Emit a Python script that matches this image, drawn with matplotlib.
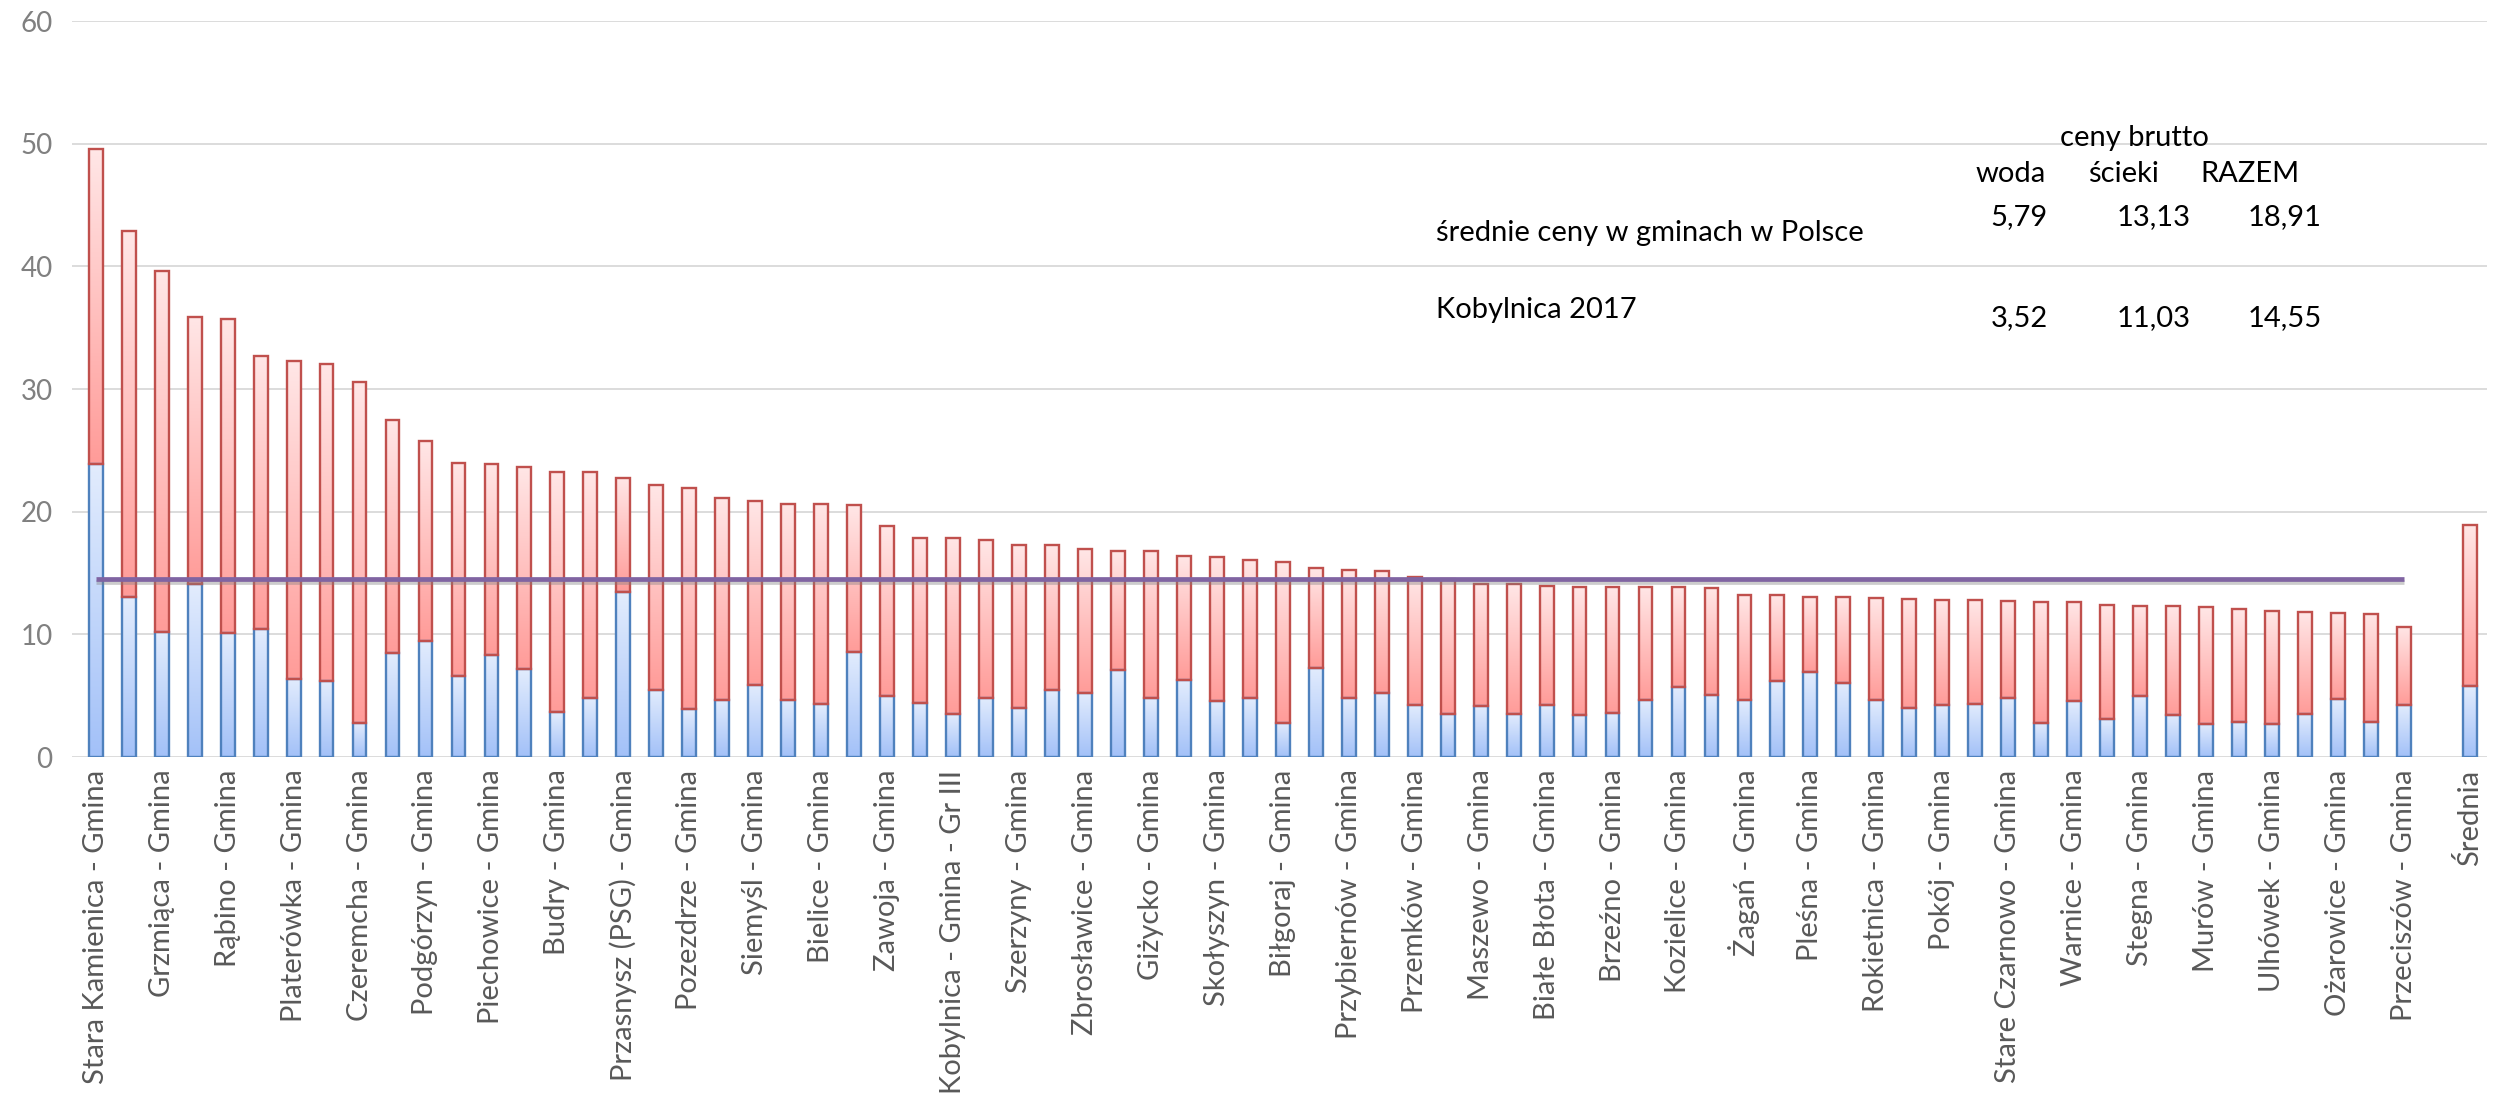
import numpy as np
import matplotlib
matplotlib.use("Agg")
import matplotlib.pyplot as plt
import matplotlib.patheffects as pe
from matplotlib.colors import LinearSegmentedColormap

plt.rcParams["font.family"] = ["Lato", "DejaVu Sans"]

# === DATA ===
# Excel shows only every other category name on the axis
SHOWN_LABELS = [
    "Stara Kamienica - Gmina", "Grzmiąca - Gmina", "Rąbino - Gmina", "Platerówka - Gmina",
    "Czeremcha - Gmina", "Podgórzyn - Gmina", "Piechowice - Gmina", "Budry - Gmina",
    "Przasnysz (PSG) - Gmina", "Pozezdrze - Gmina", "Siemyśl - Gmina", "Bielice - Gmina",
    "Zawoja - Gmina", "Kobylnica - Gmina - Gr III", "Szerzyny - Gmina", "Zbrosławice - Gmina",
    "Giżycko - Gmina", "Skołyszyn - Gmina", "Biłgoraj - Gmina", "Przybiernów - Gmina",
    "Przemków - Gmina", "Maszewo - Gmina", "Białe Błota - Gmina", "Brzeźno - Gmina",
    "Kozielice - Gmina", "Żagań - Gmina", "Pleśna - Gmina", "Rokietnica - Gmina",
    "Pokój - Gmina", "Stare Czarnowo - Gmina", "Warnice - Gmina", "Stegna - Gmina",
    "Murów - Gmina", "Ulhówek - Gmina", "Ożarowice - Gmina", "Przeciszów - Gmina",
]
SREDNIA_LABEL = "Średnia"

# woda (blue, bottom) per gmina
WODA = [
    23.91, 13.06, 10.21, 14.07, 10.11, 10.45, 6.36, 6.16, 2.78, 8.47,
    9.48, 6.58, 8.32, 7.17, 3.64, 4.84, 13.42, 5.49, 3.91, 4.65,
    5.90, 4.65, 4.29, 8.56, 5.00, 4.43, 3.48, 4.84, 3.97, 5.49,
    5.24, 7.12, 4.78, 6.25, 4.57, 4.84, 2.80, 7.27, 4.84, 5.25,
    4.24, 3.52, 4.16, 3.51, 4.24, 3.46, 3.62, 4.65, 5.71, 5.06,
    4.63, 6.23, 6.94, 6.04, 4.63, 3.97, 4.27, 4.35, 4.79, 2.80,
    4.55, 3.11, 4.96, 3.46, 2.70, 2.89, 2.70, 3.51, 4.71, 2.83,
    4.25,
]
# ścieki (red, on top) per gmina
SCIEKI = [
    25.62, 29.81, 29.41, 21.80, 25.59, 22.27, 25.92, 25.86, 27.80, 18.99,
    16.27, 17.42, 15.59, 16.47, 19.59, 18.37, 9.32, 16.66, 17.99, 16.49,
    15.00, 16.00, 16.36, 11.96, 13.83, 13.42, 14.37, 12.82, 13.34, 11.77,
    11.72, 9.70, 12.01, 10.11, 11.71, 11.22, 13.10, 8.10, 10.40, 9.88,
    10.45, 11.03, 9.91, 10.56, 9.72, 10.42, 10.23, 9.20, 8.14, 8.74,
    8.59, 6.94, 6.07, 6.97, 8.32, 8.93, 8.55, 8.41, 7.92, 9.85,
    8.12, 9.32, 7.38, 8.83, 9.53, 9.15, 9.23, 8.29, 7.03, 8.86,
    6.38,
]
SREDNIA_WODA = 5.79
SREDNIA_SCIEKI = 13.13
KOBYLNICA_RAZEM = 14.55

TABLE_TITLE = "ceny brutto"
TABLE_HEADER = ["woda", "ścieki", "RAZEM"]
TABLE_ROWS = ["średnie ceny w gminach w Polsce", "Kobylnica 2017"]
TABLE_VALUES = [["5,79", "13,13", "18,91"], ["3,52", "11,03", "14,55"]]

# === STYLE ===
W, H = 2503, 1098
BAR_W = 0.42
BLUE_EDGE = "#4f81bd"
RED_EDGE = "#c0504d"
BLUE_CMAP = LinearSegmentedColormap.from_list("b", ["#a3c1f8", "#e2ecfd"])
RED_CMAP = LinearSegmentedColormap.from_list("r", ["#ff9c99", "#ffe6e6"])
GRAD = np.linspace(0, 1, 64).reshape(-1, 1)


def fx(px):
    return px / W


def fy(py):
    return 1 - py / H


def gradient_bar(ax, x, bottom, height, cmap, edge):
    ax.imshow(GRAD, cmap=cmap, origin="lower", aspect="auto", interpolation="bilinear",
              extent=[x - BAR_W / 2, x + BAR_W / 2, bottom, bottom + height], zorder=2)
    ax.bar(x, height, BAR_W, bottom=bottom, facecolor="none", edgecolor=edge,
           linewidth=1.7, zorder=3)


fig = plt.figure(figsize=(W / 100, H / 100), dpi=100)
ax = fig.add_axes([fx(72), fy(757), fx(2487 - 72), (757 - 21) / H])

n = len(WODA)
xs = np.arange(n)
x_sr = n + 1  # one empty slot before the average

for x, w, s in zip(xs, WODA, SCIEKI):
    gradient_bar(ax, x, 0, w, BLUE_CMAP, BLUE_EDGE)
    gradient_bar(ax, x, w, s, RED_CMAP, RED_EDGE)
gradient_bar(ax, x_sr, 0, SREDNIA_WODA, BLUE_CMAP, BLUE_EDGE)
gradient_bar(ax, x_sr, SREDNIA_WODA, SREDNIA_SCIEKI, RED_CMAP, RED_EDGE)

ax.plot(xs, [KOBYLNICA_RAZEM] * n, color="#8064a2", linewidth=3.4, zorder=4,
        solid_capstyle="butt",
        path_effects=[pe.SimpleLineShadow(offset=(0, -2.5), shadow_color="gray", alpha=0.4),
                      pe.Normal()])

ax.set_xlim(-0.72, x_sr + 0.52)
ax.set_ylim(0, 60)
ax.set_yticks(range(0, 61, 10))
ax.set_xticks(list(range(0, n, 2)) + [x_sr])
ax.set_xticklabels(SHOWN_LABELS + [SREDNIA_LABEL], rotation=90, va="top", ha="center")
ax.tick_params(axis="y", length=0, pad=14, labelsize=20, labelcolor="#808080")
ax.tick_params(axis="x", length=0, pad=9, labelsize=21, labelcolor="#595959")
ax.grid(axis="y", color="#d9d9d9", linewidth=1.3, zorder=0)
ax.set_axisbelow(True)
for sp in ax.spines.values():
    sp.set_visible(False)

# === TABLE TEXT ===
fs = 21
fig.text(fx(2134), fy(138), TABLE_TITLE, ha="center", va="center", fontsize=fs)
for label, cx in zip(TABLE_HEADER, [2011, 2123, 2250]):
    fig.text(fx(cx), fy(174), label, ha="center", va="center", fontsize=fs)
for row, vals, ly, vy in zip(TABLE_ROWS, TABLE_VALUES, [233, 310], [217, 318]):
    fig.text(fx(1436), fy(ly), row, ha="left", va="center", fontsize=fs)
    for v, rx in zip(vals, [2048, 2191, 2322]):
        fig.text(fx(rx), fy(vy), v, ha="right", va="center", fontsize=fs)

fig.savefig("out.png", dpi=100)
